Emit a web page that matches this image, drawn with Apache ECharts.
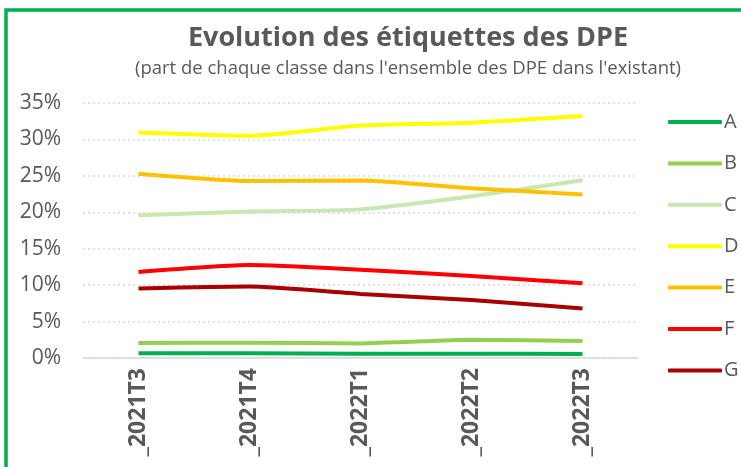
<!DOCTYPE html>
<html>
<head>
<meta charset="utf-8">
<title>Evolution des étiquettes des DPE</title>
<script src="https://cdn.jsdelivr.net/npm/echarts@6/dist/echarts.min.js"></script>
<style>
  html, body { margin: 0; padding: 0; background: #fff; }
  #chart { width: 741px; height: 467px; }
</style>
</head>
<body>
<div id="chart"></div>
<script>
// trimestres
var periodes = ['_2021T3', '_2021T4', '_2022T1', '_2022T2', '_2022T3'];
// part de chaque classe (%)
var classeA = [0.65, 0.65, 0.6, 0.6, 0.55];
var classeB = [2.05, 2.1, 2.0, 2.5, 2.35];
var classeC = [19.6, 20.1, 20.4, 22.2, 24.4];
var classeD = [30.95, 30.5, 31.9, 32.3, 33.2];
var classeE = [25.3, 24.3, 24.35, 23.3, 22.45];
var classeF = [11.8, 12.75, 12.1, 11.25, 10.25];
var classeG = [9.55, 9.8, 8.8, 7.95, 6.8];
var noms = ['A', 'B', 'C', 'D', 'E', 'F', 'G'];
var couleurs = ['#00B050', '#92D050', '#C9E7B0', '#FFFF00', '#FFC000', '#FF0000', '#A80000'];

var donnees = [classeA, classeB, classeC, classeD, classeE, classeF, classeG];
var police = '"Open Sans", sans-serif';

var myChart = echarts.init(document.getElementById('chart'));

var series = [];
for (var i = 0; i < noms.length; i++) {
    series.push({
        name: noms[i],
        type: 'line',
        data: donnees[i],
        smooth: 0.2,
        symbol: 'none',
        lineStyle: { width: 4, color: couleurs[i] },
        itemStyle: { color: couleurs[i] }
    });
}

myChart.setOption({
    animation: false,
    textStyle: { fontFamily: police },
    graphic: [
        {
            type: 'rect',
            shape: { x: 6, y: 10, width: 800, height: 520 },
            style: { fill: 'none', stroke: '#00B050', lineWidth: 3.5 }
        },
        {
            type: 'text',
            x: 408, y: 38,
            style: {
                text: 'Evolution des étiquettes des DPE',
                fill: '#595959',
                font: 'bold 27px "Open Sans", sans-serif',
                textAlign: 'center',
                textVerticalAlign: 'middle'
            }
        },
        {
            type: 'text',
            x: 408, y: 69,
            style: {
                text: "(part de chaque classe dans l'ensemble des DPE dans l'existant)",
                fill: '#595959',
                font: '18.5px "Open Sans", sans-serif',
                textAlign: 'center',
                textVerticalAlign: 'middle'
            }
        }
    ],
    legend: {
        orient: 'vertical',
        left: 663,
        top: 107,
        icon: 'roundRect',
        itemWidth: 54,
        itemHeight: 4,
        itemGap: 21.4,
        data: noms,
        textStyle: { color: '#595959', fontSize: 20, fontFamily: police, lineHeight: 20, padding: [0, 0, 0, -3] }
    },
    grid: {
        left: 83,
        right: 103,
        top: 103,
        bottom: 109,
        containLabel: false
    },
    xAxis: {
        type: 'category',
        boundaryGap: true,
        data: periodes,
        axisLine: { lineStyle: { color: '#D9D9D9', width: 1.5 } },
        axisTick: { show: false },
        axisLabel: {
            rotate: 90,
            color: '#595959',
            fontSize: 23,
            fontWeight: 'bold',
            margin: 10,
            interval: 0
        }
    },
    yAxis: {
        type: 'value',
        min: 0,
        max: 35,
        interval: 5,
        axisLine: { show: false },
        axisTick: { show: false },
        splitLine: { lineStyle: { color: '#D9D9D9', type: [2, 3], width: 1.5 } },
        axisLabel: {
            formatter: '{value}%',
            color: '#595959',
            fontSize: 21,
            margin: 22
        }
    },
    series: series
});
</script>
</body>
</html>
